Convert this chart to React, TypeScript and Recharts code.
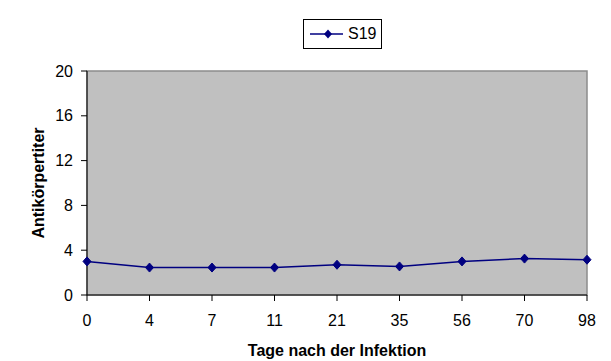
import { Label, Legend, Line, LineChart, ReferenceArea, XAxis, YAxis } from 'recharts';

const days = ['0', '4', '7', '11', '21', '35', '56', '70', '98'];
const titer = [3.0, 2.45, 2.45, 2.45, 2.7, 2.55, 3.0, 3.25, 3.15];
const yTicks = [0, 4, 8, 12, 16, 20];

const data = days.map((day, i) => ({ day, S19: titer[i] }));

const FONT = '"Liberation Sans", Arial, sans-serif';
const NAVY = '#000080';

function Diamond({ cx, cy }: { cx?: number; cy?: number }) {
  if (cx == null || cy == null) return null;
  return (
    <polygon
      points={`${cx},${cy - 4.5} ${cx + 4},${cy} ${cx},${cy + 4.5} ${cx - 4},${cy}`}
      fill={NAVY}
      stroke={NAVY}
    />
  );
}

function LegendBox() {
  return (
    <div
      style={{
        boxSizing: 'border-box',
        width: 79,
        height: 30,
        border: '1px solid #000',
        background: '#fff',
        display: 'flex',
        alignItems: 'center',
        fontFamily: FONT,
        fontSize: 16,
        color: '#000',
      }}
    >
      <svg width={44} height={14} style={{ display: 'block' }}>
        <line x1={6} y1={7} x2={39} y2={7} stroke={NAVY} strokeWidth={1.5} />
        <polygon points="24,2.5 28,7 24,11.5 20,7" fill={NAVY} />
      </svg>
      <span>S19</span>
    </div>
  );
}

export default function App() {
  return (
    <div style={{ position: 'absolute', left: 0, top: 0, background: '#fff' }}>
      <LineChart width={611} height={361} data={data} margin={{ top: 71, right: 24, bottom: 0, left: 0 }}>
        <ReferenceArea
          x1="0"
          x2="98"
          y1={0}
          y2={20}
          fill="#C0C0C0"
          fillOpacity={1}
          stroke="#8c8c8c"
          strokeWidth={1.5}
        />
        <XAxis
          dataKey="day"
          height={66}
          stroke="#000"
          tickSize={6}
          tickMargin={14}
          tick={{ fontSize: 16, fill: '#000', fontFamily: FONT }}
        >
          <Label
            content={() => (
              <text x={337} y={350} dy="0.35em" textAnchor="middle" fontFamily={FONT} fontSize={16} fontWeight="bold" fill="#000">
                Tage nach der Infektion
              </text>
            )}
          />
        </XAxis>
        <YAxis
          width={87}
          domain={[0, 20]}
          ticks={yTicks}
          stroke="#000"
          tickSize={6}
          tickMargin={8}
          tick={{ fontSize: 16, fill: '#000', fontFamily: FONT }}
        >
          <Label
            content={() => (
              <text
                x={38}
                y={183}
                dy="0.35em"
                textAnchor="middle"
                transform="rotate(-90 38 183)"
                fontFamily={FONT}
                fontSize={16}
                fontWeight="bold"
                fill="#000"
              >
                Antikörpertiter
              </text>
            )}
          />
        </YAxis>
        <Legend
          layout="horizontal"
          verticalAlign="middle"
          align="center"
          wrapperStyle={{ top: 19, left: 303, width: 79, height: 30 }}
          content={() => <LegendBox />}
        />
        <Line
          type="linear"
          dataKey="S19"
          stroke={NAVY}
          strokeWidth={1.5}
          dot={<Diamond />}
          activeDot={false}
          isAnimationActive={false}
        />
      </LineChart>
    </div>
  );
}
